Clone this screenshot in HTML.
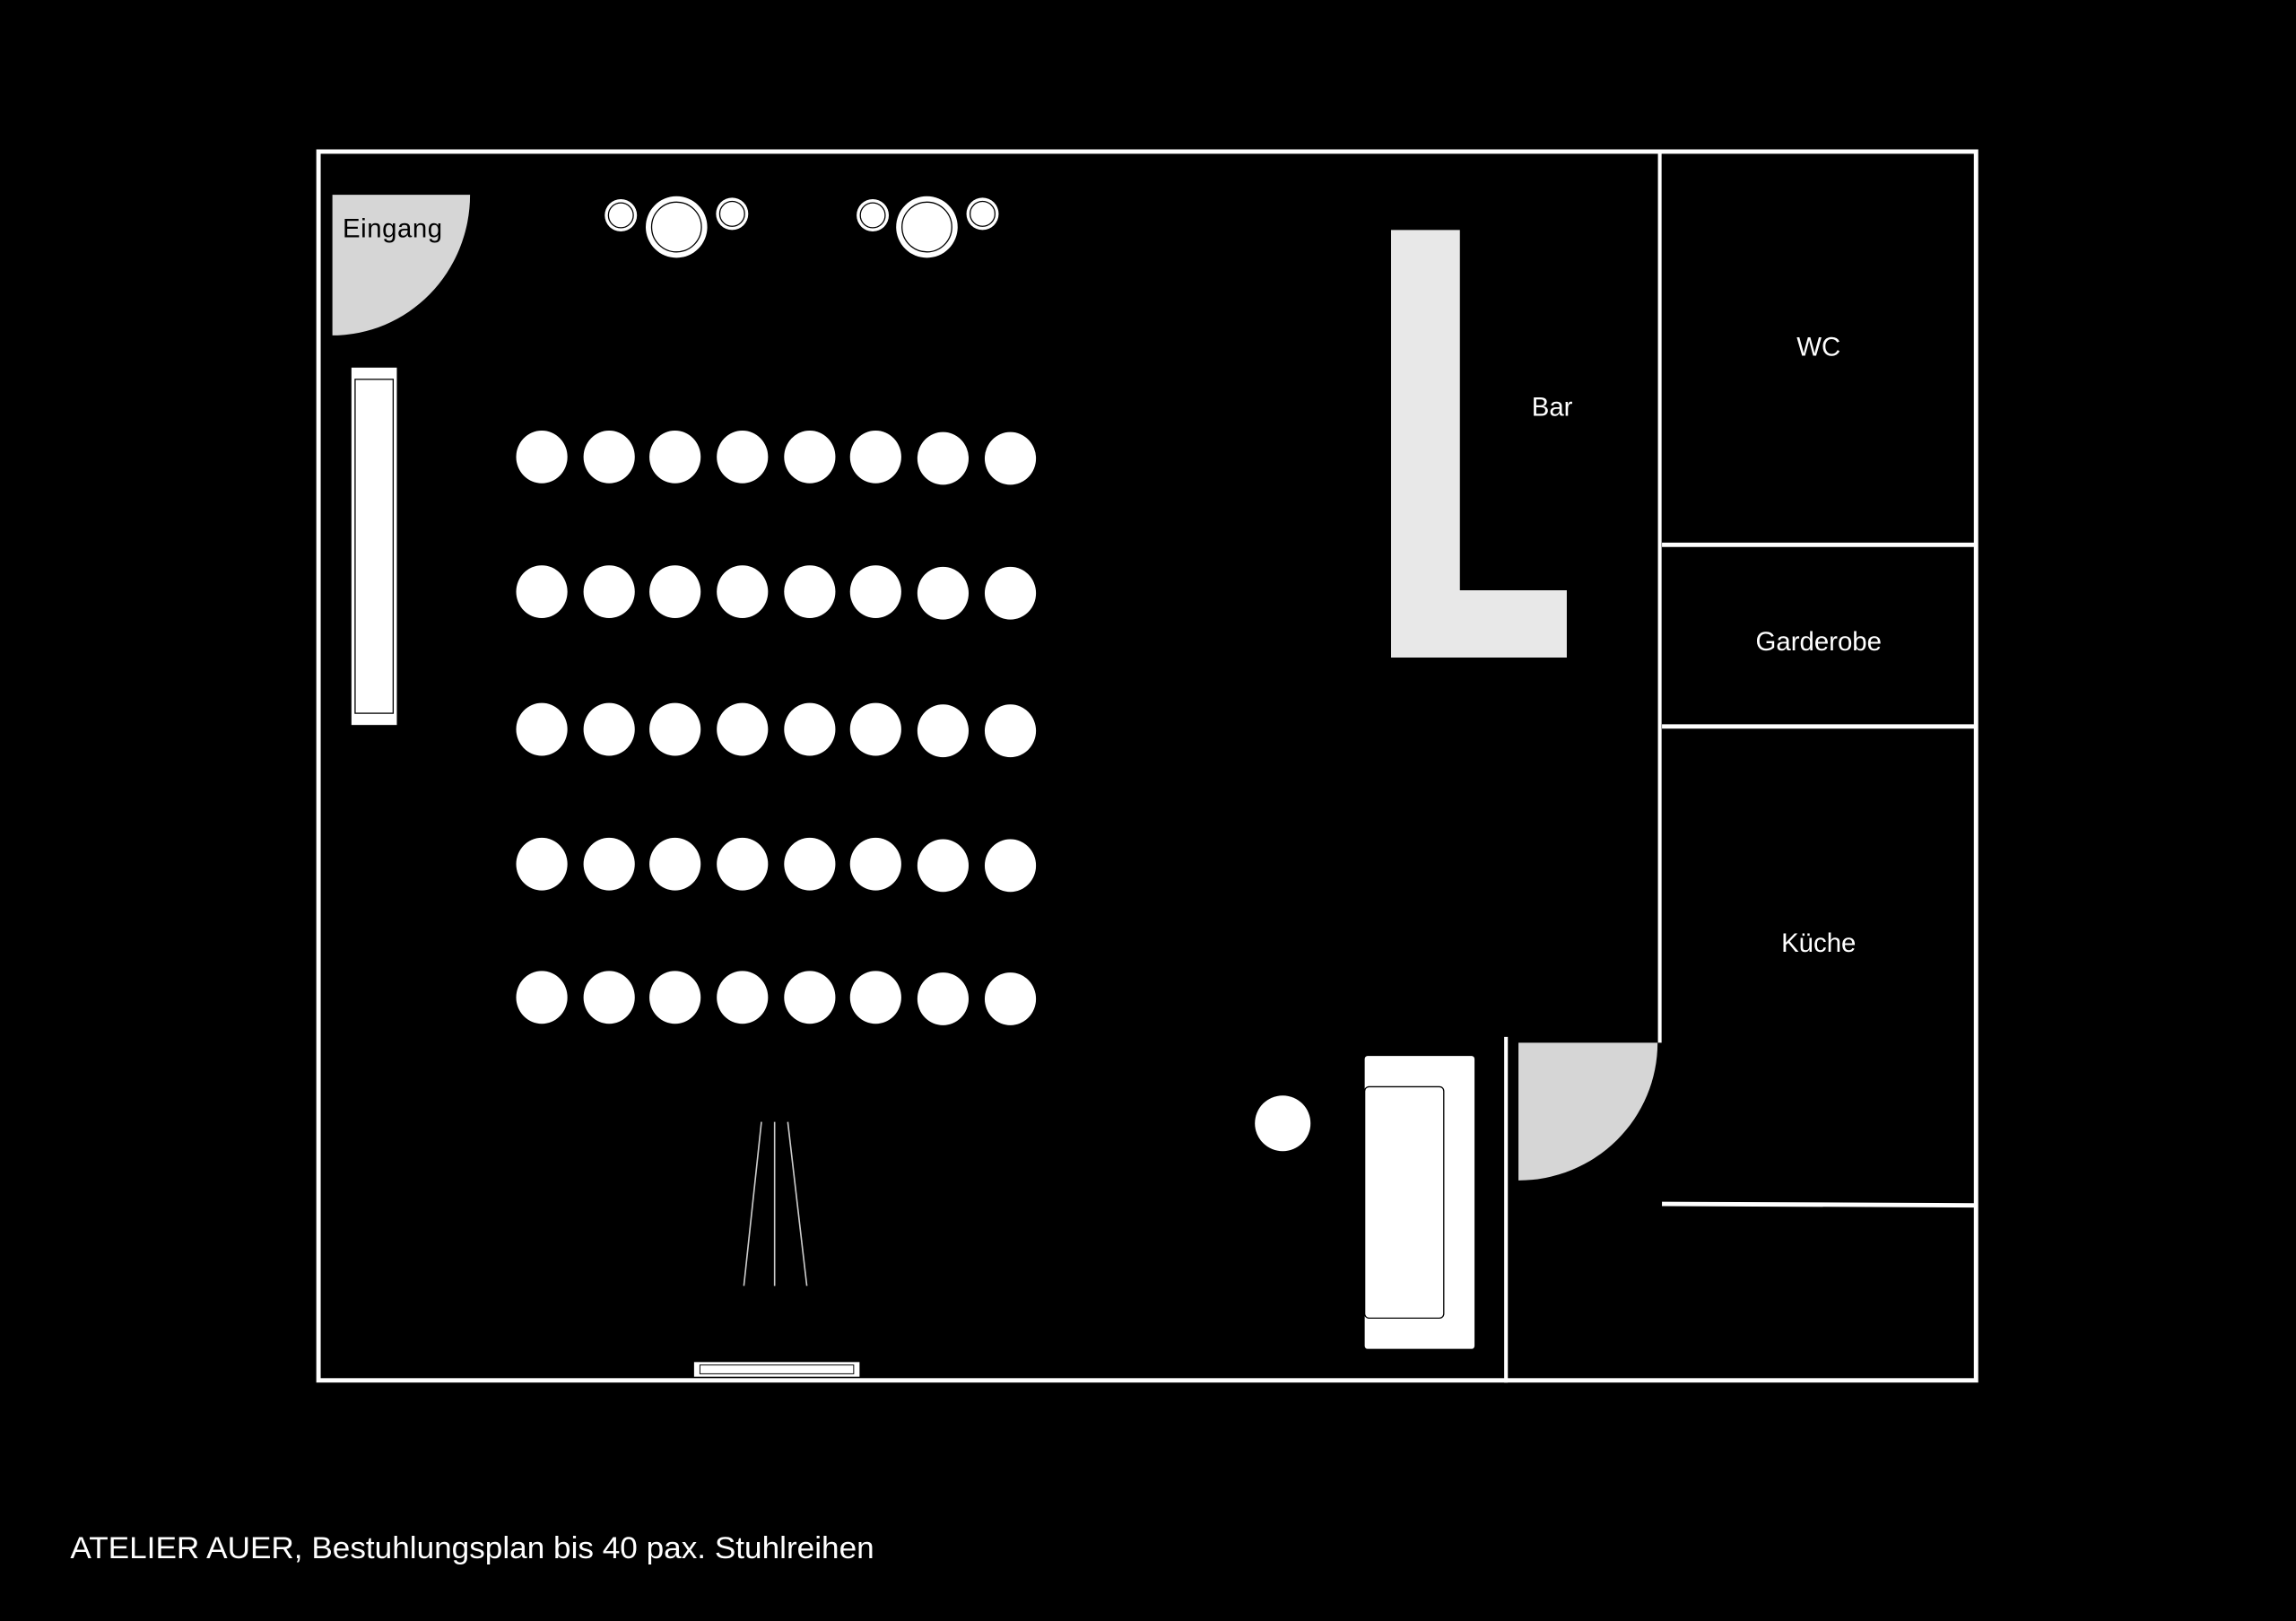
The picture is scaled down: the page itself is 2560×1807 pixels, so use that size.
<!DOCTYPE html>
<html><head><meta charset="utf-8"><style>
html,body{margin:0;padding:0;background:#000;}
svg{display:block;}
text{font-family:"Liberation Sans",sans-serif;}
</style></head><body>
<svg width="2560" height="1807" viewBox="0 0 1568 1106.8" xmlns="http://www.w3.org/2000/svg">
<rect x="0" y="0" width="1568" height="1107" fill="#000"/>
<rect x="217.5" y="103.5" width="1132" height="839" fill="none" stroke="#fff" stroke-width="3"/>
<line x1="1133.5" y1="104" x2="1133.5" y2="712" stroke="#fff" stroke-width="2.5"/>
<line x1="1135" y1="372" x2="1349" y2="372" stroke="#fff" stroke-width="3"/>
<line x1="1135" y1="496" x2="1349" y2="496" stroke="#fff" stroke-width="3"/>
<line x1="1135" y1="822" x2="1349" y2="823" stroke="#fff" stroke-width="3"/>
<line x1="1028.5" y1="708" x2="1028.5" y2="944" stroke="#fff" stroke-width="2.5"/>
<path d="M227,133 L321,133 A94,96 0 0 1 227,229 Z" fill="#d6d6d6"/>
<text x="234" y="162" font-size="18" fill="#000" textLength="68">Eingang</text>
<path d="M1037,712 L1132,712 A95,94 0 0 1 1037,806 Z" fill="#d6d6d6"/>
<rect x="240" y="251" width="31" height="244" fill="#fff"/>
<rect x="242.5" y="259" width="26" height="228" fill="#fff" stroke="#000" stroke-width="0.8"/>
<g fill="#fff" stroke="#000" stroke-width="0.8">
<circle cx="462" cy="155" r="21" stroke="none"/><circle cx="462" cy="155" r="17"/>
<circle cx="633" cy="155" r="21" stroke="none"/><circle cx="633" cy="155" r="17"/>
<circle cx="424" cy="147" r="11" stroke="none"/><circle cx="424" cy="147" r="8.5"/>
<circle cx="500" cy="146" r="11" stroke="none"/><circle cx="500" cy="146" r="8.5"/>
<circle cx="596" cy="147" r="11" stroke="none"/><circle cx="596" cy="147" r="8.5"/>
<circle cx="671" cy="146" r="11" stroke="none"/><circle cx="671" cy="146" r="8.5"/>
</g>
<g fill="#fff">
<g id="row">
<ellipse cx="370" cy="312" rx="17.5" ry="18"/><ellipse cx="416" cy="312" rx="17.5" ry="18"/>
<ellipse cx="461" cy="312" rx="17.5" ry="18"/><ellipse cx="507" cy="312" rx="17.5" ry="18"/>
<ellipse cx="553" cy="312" rx="17.5" ry="18"/><ellipse cx="598" cy="312" rx="17.5" ry="18"/>
<ellipse cx="644" cy="313" rx="17.5" ry="18"/><ellipse cx="690" cy="313" rx="17.5" ry="18"/>
</g>
<use href="#row" y="92"/>
<use href="#row" y="186"/>
<use href="#row" y="278"/>
<use href="#row" y="369"/>
<circle cx="876" cy="767" r="19"/>
</g>
<polygon points="950,157 997,157 997,403 1070,403 1070,449 950,449" fill="#e8e8e8"/>
<text x="1046" y="284" font-size="18" fill="#fff">Bar</text>
<text x="1242" y="243" font-size="18" fill="#fff" text-anchor="middle">WC</text>
<text x="1242" y="444" font-size="18" fill="#fff" text-anchor="middle">Garderobe</text>
<text x="1242" y="650" font-size="18" fill="#fff" text-anchor="middle">Küche</text>
<rect x="932" y="721" width="75" height="200" rx="2" fill="#fff"/>
<rect x="932" y="742" width="54" height="158" rx="3" fill="#fff" stroke="#000" stroke-width="0.8"/>
<g stroke="#ccc" stroke-width="1">
<line x1="520" y1="766" x2="508" y2="878"/>
<line x1="529" y1="766" x2="529" y2="878"/>
<line x1="538" y1="766" x2="551" y2="878"/>
</g>
<rect x="474" y="930" width="113" height="10" fill="#fff"/>
<rect x="478" y="932" width="105" height="6" fill="#fff" stroke="#000" stroke-width="0.6"/>
<text x="48" y="1064" font-size="21" fill="#fff" textLength="549" lengthAdjust="spacingAndGlyphs">ATELIER AUER, Bestuhlungsplan bis 40 pax. Stuhlreihen</text>
</svg>
</body></html>
